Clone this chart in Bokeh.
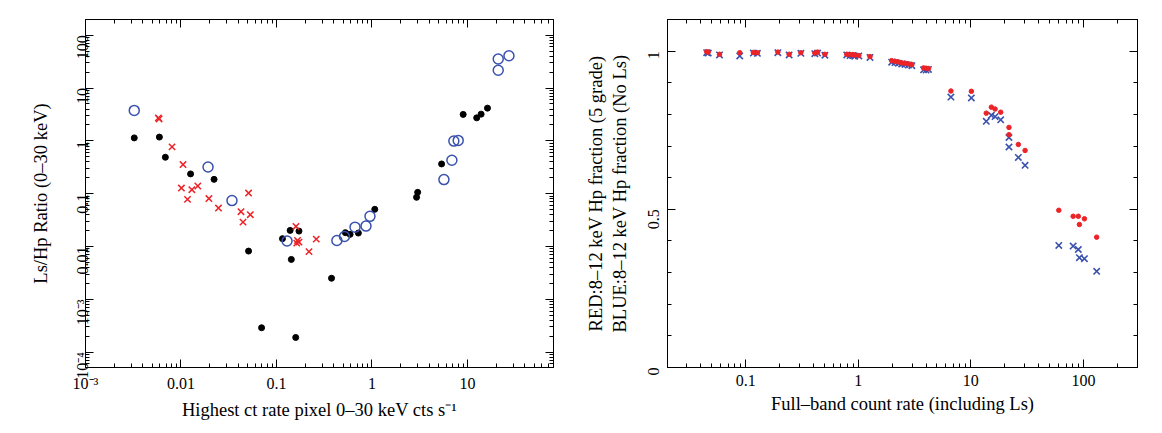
import math
from bokeh.plotting import figure
from bokeh.layouts import row
from bokeh.models import LogAxis, LinearAxis, FixedTicker, CustomJSTickFormatter, Range1d
from bokeh.embed import file_html
from bokeh.resources import INLINE

FONT = "Liberation Serif"
RED = "#ec2327"
BLUE = "#3a52ae"

# ---------------- Left panel data ----------------
black_x = [0.00324, 0.00594, 0.00686, 0.0126, 0.0222, 0.051, 0.0698, 0.1155, 0.139, 0.143,
           0.159, 0.172, 0.377, 0.527, 0.59, 0.72, 1.07, 2.93, 3.01, 5.36, 9.02, 12.5, 13.9, 16.2]
black_y = [1.14, 1.18, 0.49, 0.237, 0.187, 0.0082, 2.9e-4, 0.0141, 0.0202, 0.0057,
           1.9e-4, 0.0196, 0.00251, 0.0183, 0.017, 0.018, 0.0506, 0.0855, 0.106, 0.366, 3.17, 2.73, 3.21, 4.17]

blue_o_x = [0.00324, 0.0192, 0.0342, 0.129, 0.429, 0.515, 0.665, 0.866, 0.953, 5.67, 6.87, 7.2, 8.0, 21.0, 21.0, 27.2]
blue_o_y = [3.78, 0.321, 0.074, 0.0127, 0.013, 0.0155, 0.0233, 0.0244, 0.0373, 0.185, 0.43, 0.99, 1.02, 21.7, 35.5, 41.0]

red_x_x = [0.0058, 0.0059, 0.00806, 0.0105, 0.0101, 0.0117, 0.013, 0.015, 0.0196, 0.0247, 0.051,
           0.0425, 0.0532, 0.0446, 0.16, 0.166, 0.172, 0.163, 0.219, 0.261]
red_x_y = [2.73, 2.6, 0.77, 0.356, 0.128, 0.078, 0.119, 0.14, 0.081, 0.0535, 0.103,
           0.0457, 0.0401, 0.029, 0.024, 0.013, 0.0121, 0.0116, 0.008, 0.0138]

left_xticks = [1e-3, 0.01, 0.1, 1, 10]
left_xlabels = ["10\u207b\u00b3", "0.01", "0.1", "1", "10"]
left_yticks = [1e-4, 1e-3, 0.01, 0.1, 1, 10, 100]
left_ylabels = ["10\u207b\u2074", "10\u207b\u00b3", "0.01", "0.1", "1", "10", "100"]

# ---------------- Right panel data ----------------
rate = [0.045, 0.0465, 0.0585, 0.0885, 0.117, 0.127, 0.193, 0.243, 0.309, 0.411, 0.435, 0.505,
        0.79, 0.845, 0.90, 0.93, 1.01, 1.27, 1.98, 2.12, 2.27, 2.43, 2.6, 2.79, 2.99, 3.8, 4.0, 4.2,
        6.65, 10.1, 13.7, 15.2, 16.4, 18.4, 21.8, 21.8, 26.4, 30.3, 60.4, 81.0, 90.0, 92.0, 102.0, 131.0]
red_frac = [0.998, 0.997, 0.99, 0.995, 0.996, 0.995, 0.997, 0.99, 0.995, 0.994, 0.997, 0.99,
            0.99, 0.989, 0.989, 0.987, 0.986, 0.983, 0.970, 0.968, 0.966, 0.963, 0.962, 0.960, 0.958, 0.947, 0.946, 0.945,
            0.874, 0.873, 0.804, 0.823, 0.817, 0.807, 0.759, 0.736, 0.705, 0.686, 0.497, 0.478, 0.478, 0.452, 0.47, 0.412]
blue_frac = [0.995, 0.994, 0.988, 0.985, 0.994, 0.993, 0.995, 0.988, 0.993, 0.992, 0.994, 0.987,
             0.988, 0.986, 0.986, 0.984, 0.985, 0.980, 0.965, 0.964, 0.962, 0.959, 0.958, 0.956, 0.954, 0.941, 0.94, 0.942,
             0.855, 0.852, 0.778, 0.797, 0.793, 0.783, 0.727, 0.697, 0.664, 0.639, 0.386, 0.384, 0.373, 0.347, 0.344, 0.304]

right_xticks = [0.1, 1, 10, 100]
right_xlabels = ["0.1", "1", "10", "100"]
right_yticks = [0, 0.5, 1]
right_ylabels = ["0", "0.5", "1"]
right_yminor = [0.1, 0.2, 0.3, 0.4, 0.6, 0.7, 0.8, 0.9, 1.1]


def log_minors(lo, hi):
    out = []
    for e in range(-6, 4):
        for m in range(2, 10):
            v = m * 10.0 ** e
            if lo <= v <= hi:
                out.append(v)
    return out


def fmt(ticks, labels, log=True):
    return CustomJSTickFormatter(args=dict(t=ticks, l=labels, lg=log), code="""
        let best = 0, d = Infinity;
        for (let i = 0; i < t.length; i++) {
            const a = lg ? Math.log10(tick) : tick;
            const b = lg ? Math.log10(t[i]) : t[i];
            const dd = Math.abs(a - b);
            if (dd < d) { d = dd; best = i; }
        }
        return l[best];
    """)


BLANK = "return '';"


def style(ax, standoff=5, label_standoff=5):
    ax.major_tick_in = 8
    ax.major_tick_out = 0
    ax.minor_tick_in = 4
    ax.minor_tick_out = 0
    ax.axis_line_color = "black"
    ax.major_tick_line_color = "black"
    ax.minor_tick_line_color = "black"
    ax.major_label_text_font = FONT
    ax.major_label_text_font_size = "16px"
    ax.major_label_text_color = "black"
    ax.major_label_standoff = standoff
    ax.axis_label_text_font = FONT
    ax.axis_label_text_font_style = "normal"
    ax.axis_label_text_font_size = "18.5px"
    ax.axis_label_text_color = "black"
    ax.axis_label_standoff = label_standoff


# ---------------- Left figure ----------------
lx0, lx1 = 10 ** -3.0, 10 ** 1.901
ly0, ly1 = 10 ** -4.29, 10 ** 2.298
p1 = figure(width=581, height=433, x_axis_type="log", y_axis_type="log",
            x_range=Range1d(lx0, lx1), y_range=Range1d(ly0, ly1),
            output_backend="svg", toolbar_location=None,
            min_border_left=85, min_border_right=28, min_border_top=19, min_border_bottom=66)
p1.xgrid.visible = False
p1.ygrid.visible = False
p1.outline_line_color = "black"

xt1 = FixedTicker(ticks=left_xticks, minor_ticks=log_minors(lx0, lx1))
yt1 = FixedTicker(ticks=left_yticks, minor_ticks=log_minors(ly0, ly1))
p1.xaxis.ticker = xt1
p1.yaxis.ticker = yt1
p1.xaxis.formatter = fmt(left_xticks, left_xlabels)
p1.yaxis.formatter = fmt(left_yticks, left_ylabels)
p1.xaxis.axis_label = "Highest ct rate pixel 0\u201330 keV cts s\u207b\u00b9"
p1.yaxis.axis_label = "Ls/Hp Ratio (0\u201330 keV)"
for ax in p1.xaxis:
    style(ax, standoff=7, label_standoff=5)
for ax in p1.yaxis:
    style(ax, standoff=3, label_standoff=12)
    ax.major_label_orientation = math.pi / 2

top1 = LogAxis(ticker=xt1, formatter=CustomJSTickFormatter(code=BLANK))
style(top1, standoff=0)
p1.add_layout(top1, "above")
right1 = LogAxis(ticker=yt1, formatter=CustomJSTickFormatter(code=BLANK))
style(right1, standoff=0)
p1.add_layout(right1, "right")

p1.scatter(black_x, black_y, marker="circle", size=6, fill_color="black", line_color="black")
p1.scatter(blue_o_x, blue_o_y, marker="circle", size=10, fill_color=None, line_color=BLUE, line_width=1.5)
p1.scatter(red_x_x, red_x_y, marker="x", size=9, line_color=RED, line_width=1.5)

# ---------------- Right figure ----------------
rx0, rx1 = 0.0202, 302.0
ry0, ry1 = 0.0, 1.1
p2 = figure(width=581, height=433, x_axis_type="log",
            x_range=Range1d(rx0, rx1), y_range=Range1d(ry0, ry1),
            output_backend="svg", toolbar_location=None,
            min_border_left=86, min_border_right=25, min_border_top=19, min_border_bottom=66)
p2.xgrid.visible = False
p2.ygrid.visible = False
p2.outline_line_color = "black"

xt2 = FixedTicker(ticks=right_xticks, minor_ticks=log_minors(rx0, rx1))
yt2 = FixedTicker(ticks=right_yticks, minor_ticks=right_yminor)
p2.xaxis.ticker = xt2
p2.yaxis.ticker = yt2
p2.xaxis.formatter = fmt(right_xticks, right_xlabels)
p2.yaxis.formatter = fmt(right_yticks, right_ylabels, log=False)
p2.xaxis.axis_label = "Full\u2013band count rate (including Ls)"
p2.yaxis.axis_label = "RED:8\u201312 keV Hp fraction (5 grade)\nBLUE:8\u201312 keV Hp fraction (No Ls)"
for ax in p2.xaxis:
    style(ax, standoff=7, label_standoff=5)
for ax in p2.yaxis:
    style(ax, standoff=14, label_standoff=10)
    ax.major_label_orientation = math.pi / 2

top2 = LogAxis(ticker=xt2, formatter=CustomJSTickFormatter(code=BLANK))
style(top2, standoff=0)
p2.add_layout(top2, "above")
right2 = LinearAxis(ticker=yt2, formatter=CustomJSTickFormatter(code=BLANK))
style(right2, standoff=0)
p2.add_layout(right2, "right")

p2.scatter(rate, blue_frac, marker="x", size=9, line_color=BLUE, line_width=1.6)
p2.scatter(rate, red_frac, marker="circle", size=4.5, fill_color=RED, line_color=RED)

layout = row(p1, p2)
open("out.html", "w").write(file_html(layout, INLINE))
